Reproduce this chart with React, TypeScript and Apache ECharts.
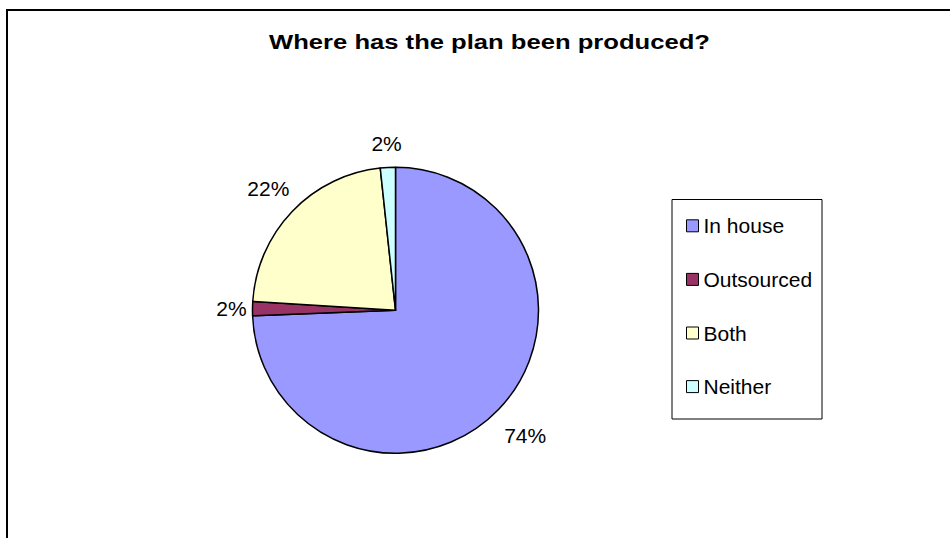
import React, { useEffect, useRef } from "react";
import * as echarts from "echarts";

const titleText = "Where has the plan been produced?";
const categories = ["In house", "Outsourced", "Both", "Neither"];
const values = [74.4, 1.6, 22.3, 1.7];
const colors = ["#9999FF", "#993366", "#FFFFCC", "#CCFFFF"];
const labelLineLengths = [37, 21, 33, 24];

const FONT = "'Liberation Sans', Arial, Helvetica, sans-serif";

export default function App() {
  const ref = useRef<HTMLDivElement>(null);
  useEffect(() => {
    if (!ref.current) return;
    const chart = echarts.init(ref.current, null, { renderer: "svg" });
    const data = categories.map((name, i) => ({
      name,
      value: values[i],
      itemStyle: { color: colors[i] },
      labelLine: { length: labelLineLengths[i], length2: 0 },
    }));
    chart.setOption({
      animation: false,
      backgroundColor: "#ffffff",
      graphic: [
        {
          type: "rect",
          shape: { x: 7, y: 10, width: 1000, height: 1000 },
          style: { fill: "none", stroke: "#000", lineWidth: 2 },
          silent: true,
        },
        {
          type: "text",
          x: 489.5,
          y: 41.5,
          scaleX: 1.22,
          style: {
            text: titleText,
            fontFamily: FONT,
            fontSize: 21,
            fontWeight: "bold",
            fill: "#000",
            align: "center",
            verticalAlign: "middle",
          },
          silent: true,
        },
        {
          type: "rect",
          shape: { x: 672, y: 199.5, width: 150, height: 219.5 },
          style: { fill: "none", stroke: "#000", lineWidth: 1 },
          silent: true,
        },
      ],
      legend: {
        orient: "vertical",
        left: 686,
        top: 215.3,
        padding: 0,
        itemWidth: 12,
        itemHeight: 12,
        itemGap: 32.6,
        icon: "rect",
        selectedMode: false,
        itemStyle: { borderColor: "#000", borderWidth: 1 },
        textStyle: {
          fontFamily: FONT,
          fontSize: 21,
          lineHeight: 21,
          color: "#000",
        },
        data: categories,
      },
      series: [
        {
          type: "pie",
          center: [395.5, 310.3],
          radius: 143,
          startAngle: 90,
          clockwise: true,
          avoidLabelOverlap: false,
          percentPrecision: 0,
          silent: true,
          itemStyle: { borderColor: "#000", borderWidth: 1.5 },
          label: {
            show: true,
            position: "outside",
            formatter: "{d}%",
            fontFamily: FONT,
            fontSize: 21,
            color: "#000",
            distanceToLabelLine: 0,
          },
          labelLine: { show: false, length2: 0 },
          labelLayout: { align: "center" },
          emphasis: { disabled: true },
          data,
        },
      ],
    });
    return () => chart.dispose();
  }, []);
  return (
    <div
      ref={ref}
      style={{ position: "absolute", left: 0, top: 0, width: 950, height: 538 }}
    />
  );
}
